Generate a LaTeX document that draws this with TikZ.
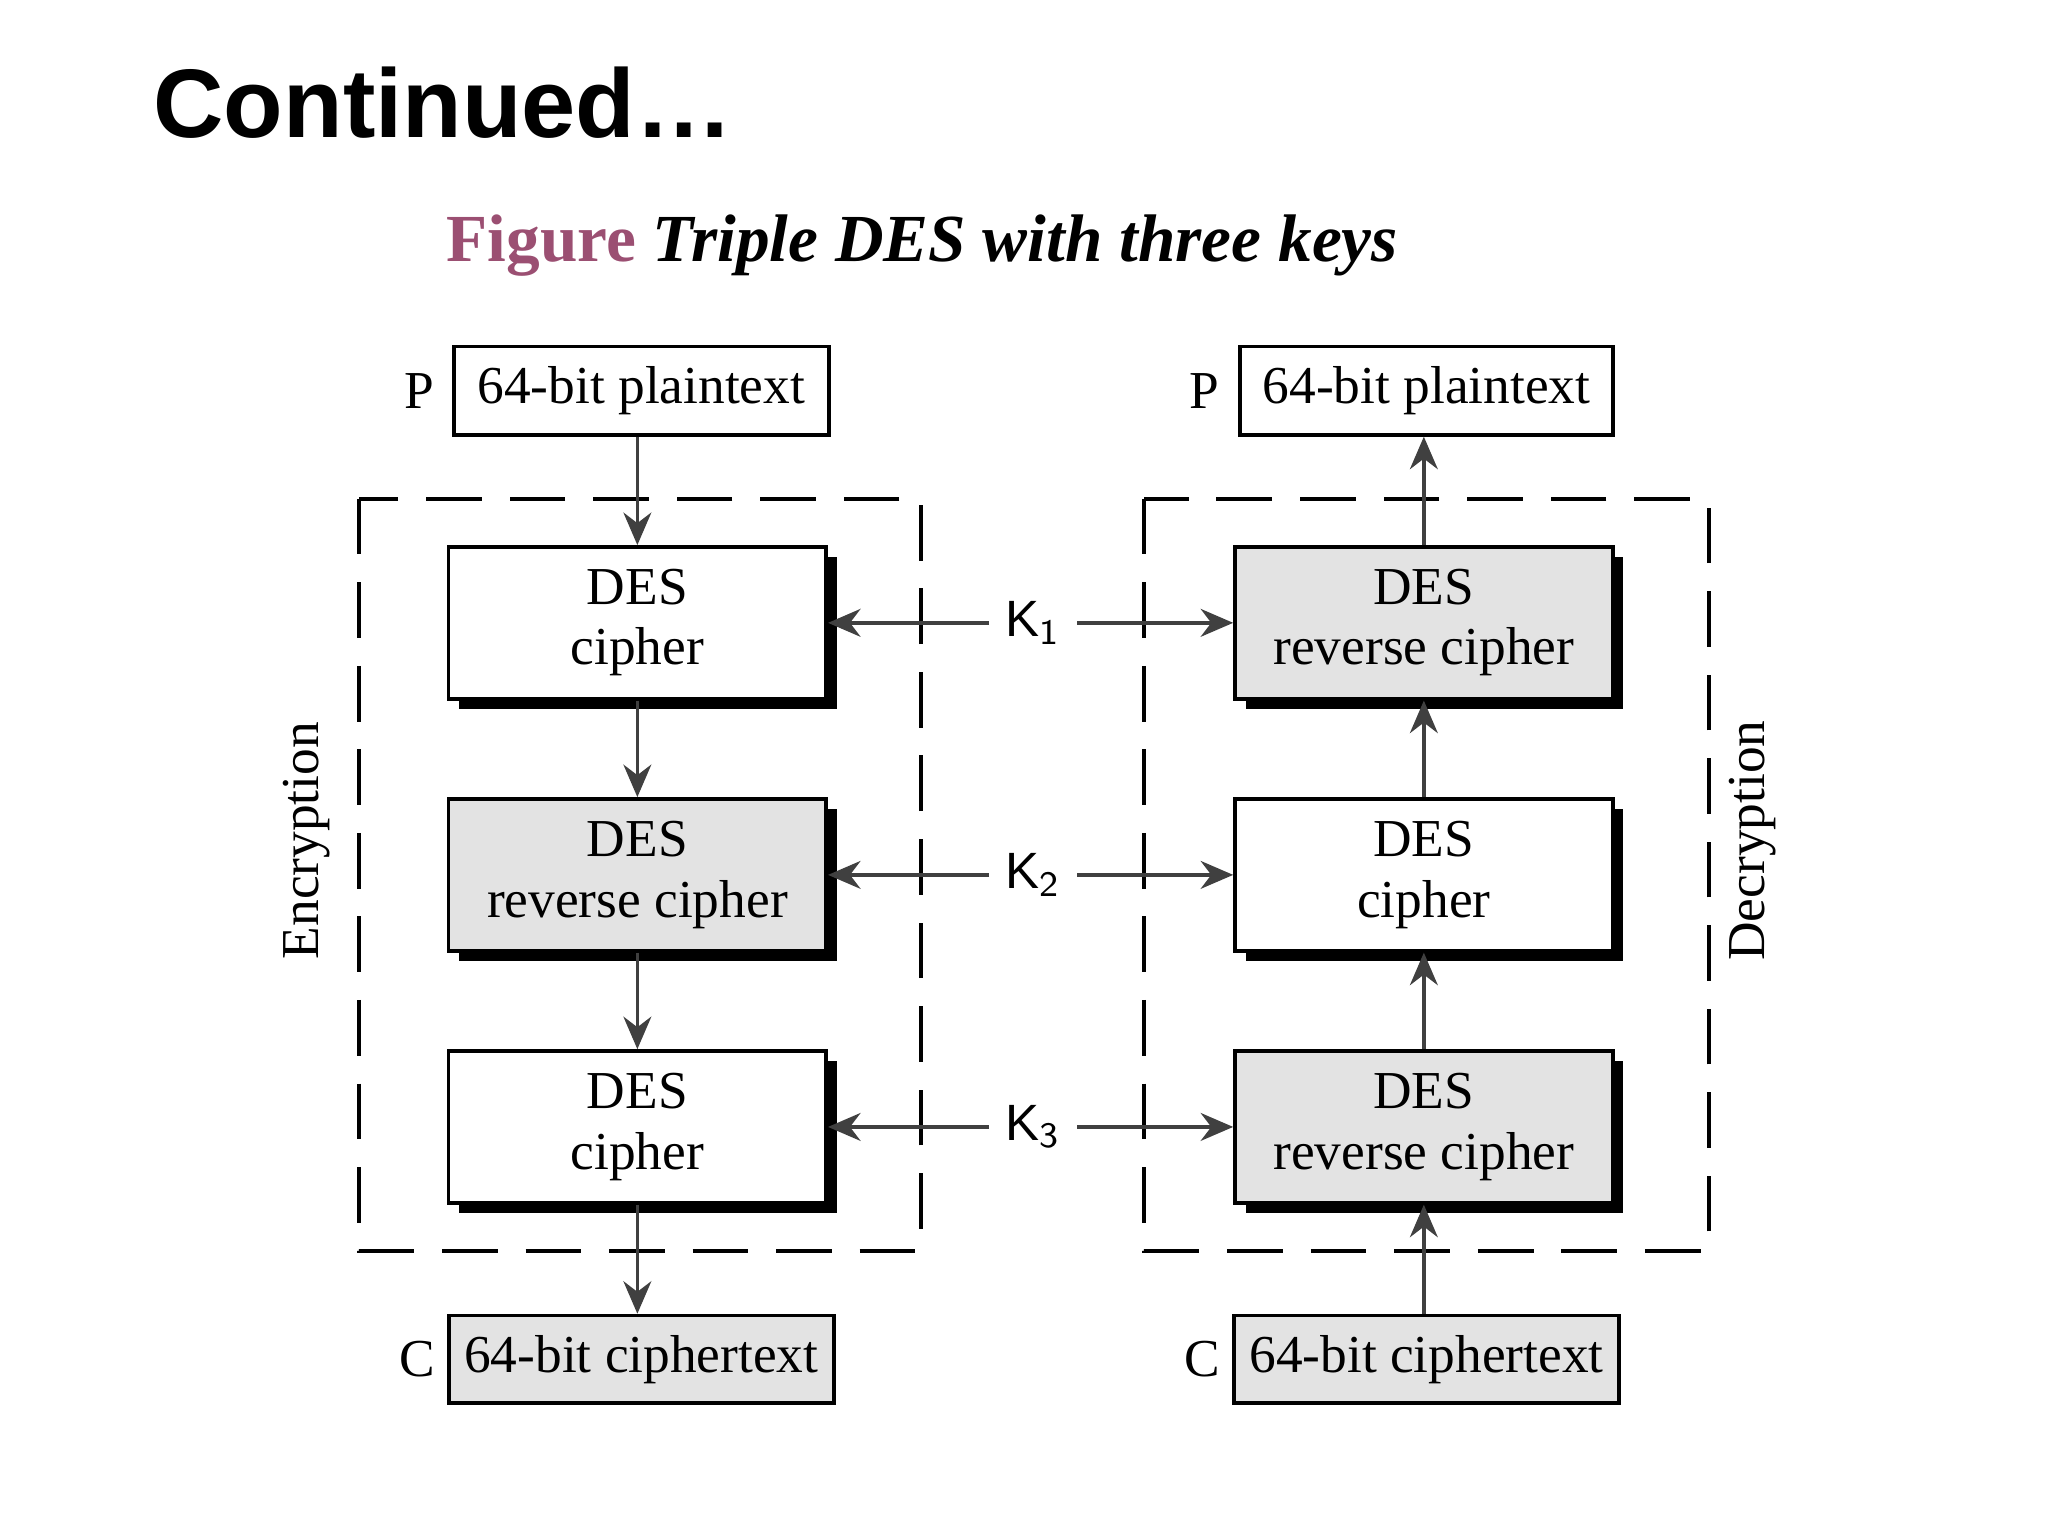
\documentclass[tikz,border=0pt]{standalone}
\usepackage{fontspec}
\setmainfont{Liberation Serif}
\newfontfamily\sans{Liberation Sans}
\usetikzlibrary{arrows.meta}
\definecolor{mauve}{HTML}{9B4F72}
\definecolor{boxgray}{HTML}{E3E3E3}
\begin{document}
\begin{tikzpicture}[x=0.01cm,y=-0.01cm,
  txt/.style={font=\fontsize{11.5}{13}\selectfont},
  des/.style={draw,thick,fill=white,align=center,txt,inner sep=0pt,
     minimum width=2.86cm,minimum height=1.15cm},
  arr/.style={thick,draw=black!75,-{Stealth[length=7pt,width=6pt]}},
  dashframe/.style={thick,dash pattern=on 12pt off 6pt}]
\useasboundingbox (0,0) rectangle (1552,1164);
\node[anchor=west,font=\sans\bfseries\fontsize{21}{24}\selectfont] (ttl) at (104,78) {Continued…};
\node[anchor=west,font=\fontsize{14.5}{16}\selectfont] (fig) at (326,186) {\textcolor{mauve}{\textbf{Figure}} \textbf{\textit{Triple DES with three keys}}};
% dashed frames
\draw[dashframe] (272,378) rectangle (698,948);
\draw[dashframe] (867,378) rectangle (1295,948);
\node[rotate=90,txt] (enc) at (232,637) {Encryption};
\node[rotate=90,txt] (dec) at (1328,637) {Decryption};
% io boxes
\node[draw,thick,minimum width=2.84cm,minimum height=0.67cm,txt] (lp) at (486,296) {64-bit plaintext};
\node[txt] (lP) at (318,296) {P};
\node[draw,thick,fill=boxgray,minimum width=2.84cm,minimum height=0.66cm,txt] (lc) at (486,1030) {64-bit ciphertext};
\node[txt] (lC) at (316,1030) {C};
\node[draw,thick,minimum width=2.83cm,minimum height=0.67cm,txt] (rp) at (1081,296) {64-bit plaintext};
\node[txt] (rP) at (913,296) {P};
\node[draw,thick,fill=boxgray,minimum width=2.83cm,minimum height=0.66cm,txt] (rc) at (1081,1030) {64-bit ciphertext};
\node[txt] (rC) at (911,1030) {C};
% DES boxes with shadows
\foreach \n/\x/\y/\f/\t in {l1/483/472/white/cipher, l2/483/663/boxgray/reverse cipher, l3/483/854/white/cipher,
                             r1/1079/472/boxgray/reverse cipher, r2/1079/663/white/cipher, r3/1079/854/boxgray/reverse cipher}{
  \fill[black] (\x-135,\y-50) rectangle (\x+151,\y+65);
  \node[des,fill=\f] (\n) at (\x,\y) {DES\\\t};
}
% keys
\foreach \i/\y in {1/472,2/663,3/854}{
  \node[font=\sans\fontsize{11}{12}\selectfont] (k\i) at (783,\y) {K$_{\mathsf{\i}}$};
  \draw[arr] (k\i) -- (l\i.east);
  \draw[arr] (k\i) -- (r\i.west);
}
% vertical flow
\draw[arr] (lp.south -| l1.north) -- (l1.north);
\draw[arr] (l1) -- (l2);
\draw[arr] (l2) -- (l3);
\draw[arr] (l3.south) -- (lc.north -| l3.south);
\draw[arr] (rc.north -| r3.south) -- (r3.south);
\draw[arr] (r3) -- (r2);
\draw[arr] (r2) -- (r1);
\draw[arr] (r1.north) -- (rp.south -| r1.north);
\end{tikzpicture}
\end{document}
